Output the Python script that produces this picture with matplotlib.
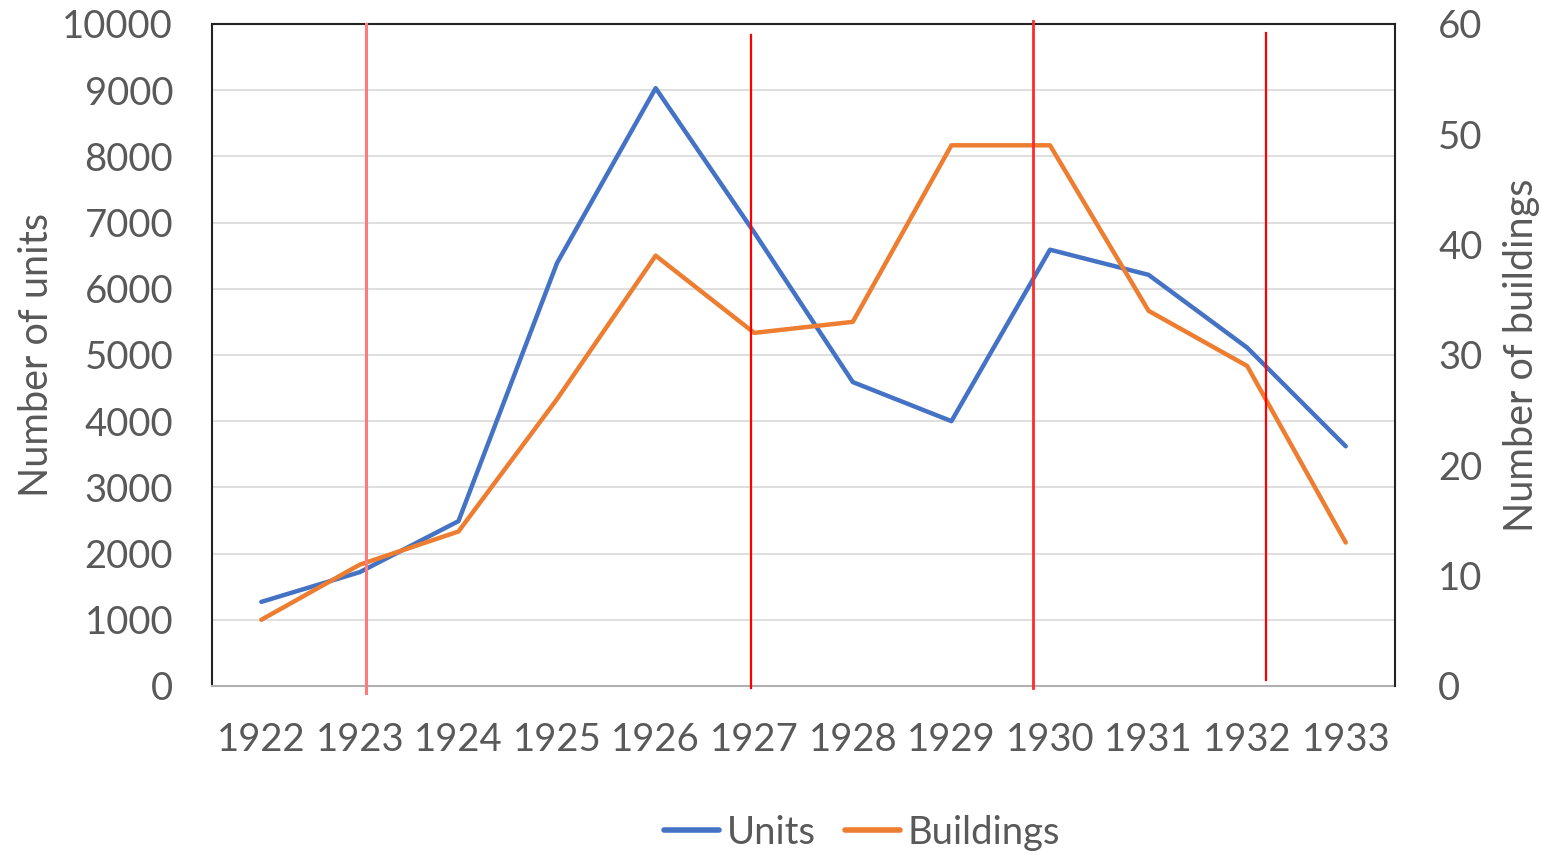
import matplotlib.pyplot as plt
import numpy as np

plt.rcParams['font.family'] = ['Lato', 'DejaVu Sans']

years = ['1922', '1923', '1924', '1925', '1926', '1927',
         '1928', '1929', '1930', '1931', '1932', '1933']
units = [1270, 1720, 2490, 6390, 9030, 6850, 4590, 4000, 6590, 6210, 5110, 3620]
buildings = [6, 11, 14, 26, 39, 32, 33, 49, 49, 34, 29, 13]

# hand-drawn red markers (category index, bottom, top in axes fraction, colour, width)
marks_x = [1.06, 4.97, 7.83, 10.19]
marks_lo = [-0.011, -0.003, -0.003, 0.009]
marks_hi = [1.0, 0.983, 1.004, 0.986]
marks_col = ['#ff7b7b', '#ff0000', '#ff2a2a', '#ff0000']
marks_lw = [2.2, 1.6, 2.0, 1.6]

blue = '#4472c4'
orange = '#ed7d31'
grey_txt = '#595959'

fig, ax = plt.subplots(figsize=(15.42, 8.55), dpi=100)
fig.subplots_adjust(left=0.1375, right=0.9047, top=0.972, bottom=0.1977)
ax2 = ax.twinx()

x = np.arange(len(years))
ax.plot(x, units, color=blue, lw=3.2, label='Units', solid_capstyle='round', zorder=3)
ax2.plot(x, buildings, color=orange, lw=3.2, label='Buildings', solid_capstyle='round', zorder=3)

ax.set_xlim(-0.5, len(years) - 0.5)
ax.set_ylim(0, 10000)
ax2.set_ylim(0, 60)
ax.set_yticks(np.arange(0, 10001, 1000))
ax2.set_yticks(np.arange(0, 61, 10))
ax.set_xticks(x)
ax.set_xticklabels(years)

ax.grid(axis='y', color='#d9d9d9', lw=1.2)
ax.set_axisbelow(True)

for a in (ax, ax2):
    a.tick_params(length=0, labelsize=27.5, labelcolor=grey_txt)
    for s in a.spines.values():
        s.set_visible(False)
ax.tick_params(axis='x', pad=26)
ax.tick_params(axis='y', pad=28)
ax2.tick_params(axis='y', pad=31)

# frame: black top/left/right, grey bottom axis
ax.spines['top'].set_visible(True)
ax.spines['left'].set_visible(True)
ax2.spines['right'].set_visible(True)
ax.spines['bottom'].set_visible(True)
ax.spines['top'].set_color('#222222')
ax.spines['left'].set_color('#222222')
ax2.spines['right'].set_color('#222222')
ax.spines['bottom'].set_color('#b0b0b0')
for s in ('top', 'left', 'bottom'):
    ax.spines[s].set_linewidth(1.5)
ax2.spines['right'].set_linewidth(1.5)

ax.set_ylabel('Number of units', fontsize=28.5, color=grey_txt)
ax2.set_ylabel('Number of buildings', fontsize=28.5, color=grey_txt)
ax.yaxis.set_label_coords(-0.133, 0.5)
ax2.yaxis.set_label_coords(1.091, 0.5)

for xm, lo, hi, c, w in zip(marks_x, marks_lo, marks_hi, marks_col, marks_lw):
    ax2.plot([xm, xm], [lo, hi], color=c, lw=w, transform=ax2.get_xaxis_transform(),
             clip_on=False, zorder=4)

h1, l1 = ax.get_legend_handles_labels()
h2, l2 = ax2.get_legend_handles_labels()
leg = fig.legend(h1 + h2, l1 + l2, loc='center', bbox_to_anchor=(0.559, 0.026), ncol=2,
                 frameon=False, fontsize=27.5, labelcolor=grey_txt, handlelength=1.45,
                 handletextpad=0.2, columnspacing=0.75)
for ln in leg.get_lines():
    ln.set_linewidth(4)

plt.savefig('out.png', dpi=100)
